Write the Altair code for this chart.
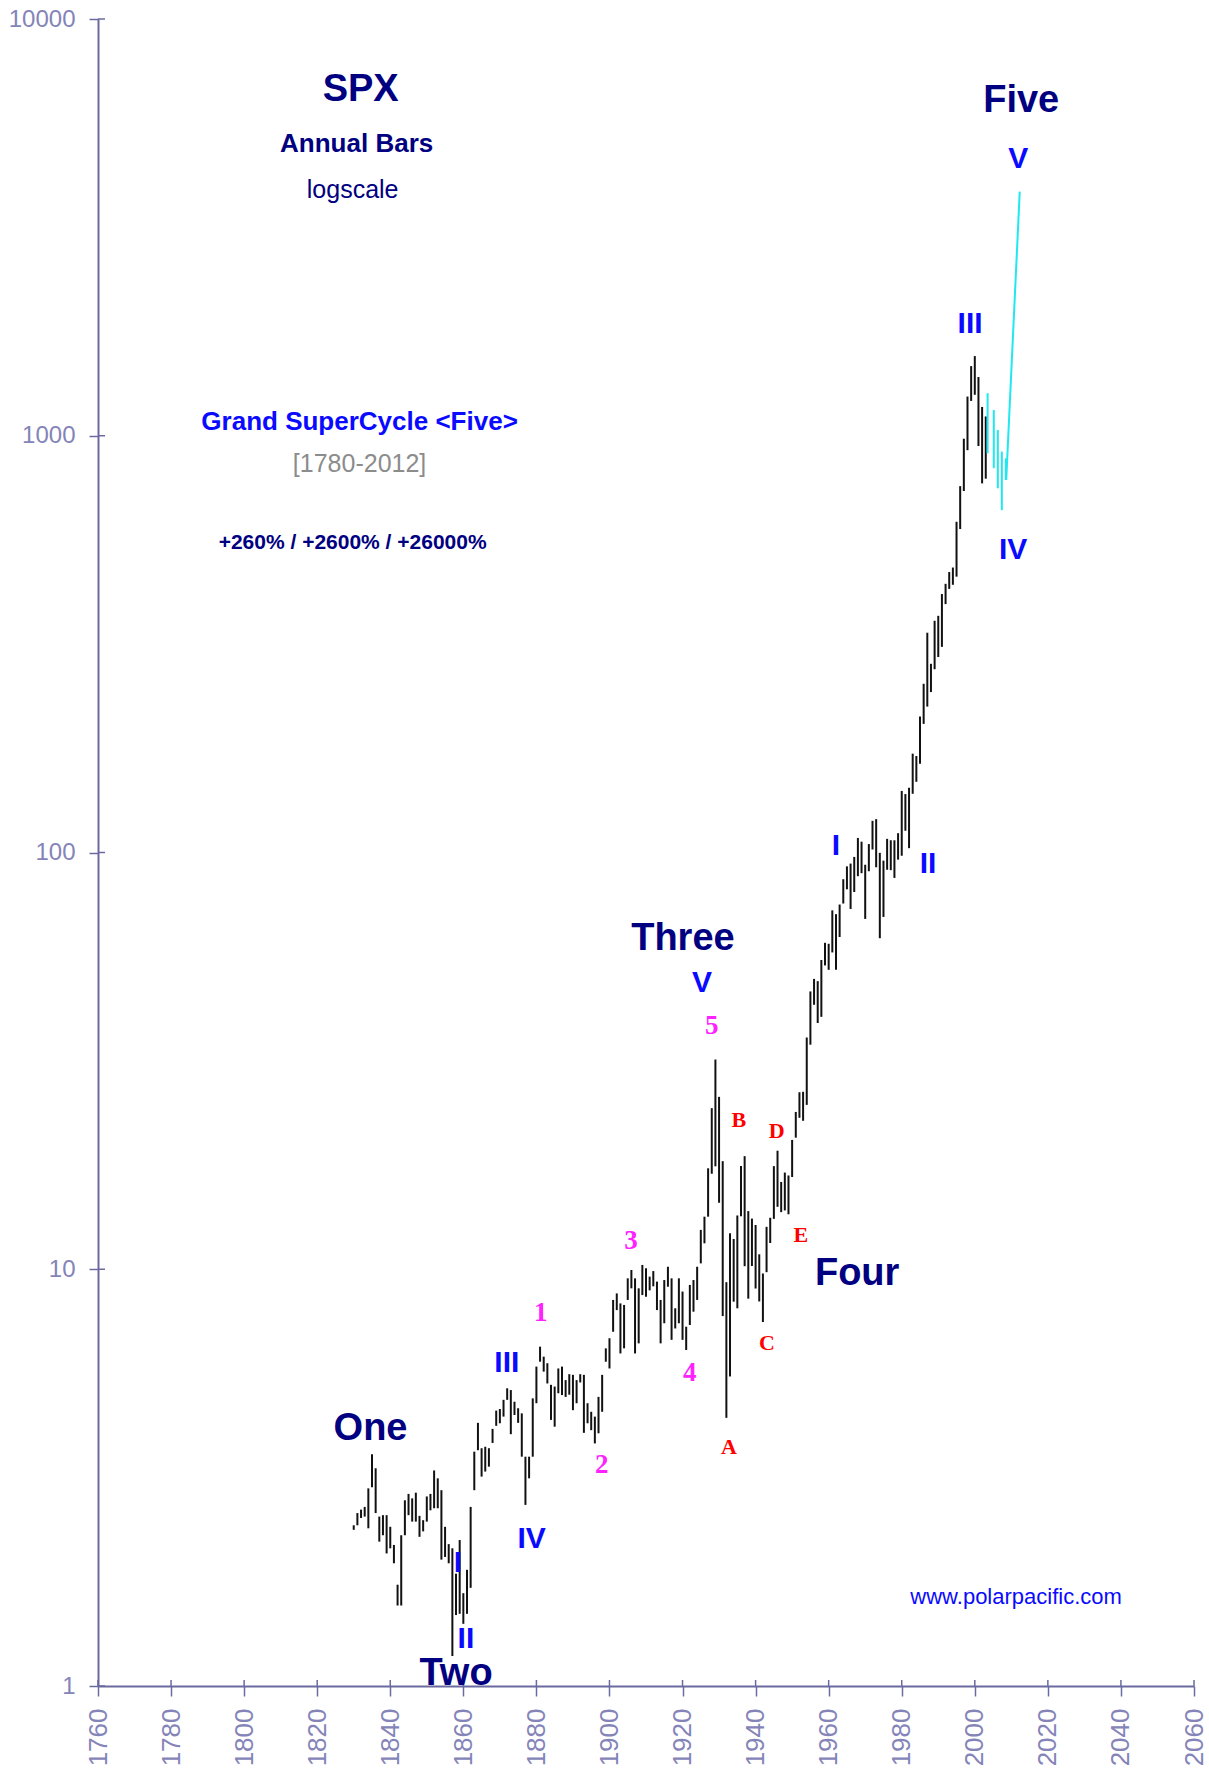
import altair as alt
import pandas as pd

# ---- annual high / low of the SPX (Cowles-extended before 1928), 1830-2003 ----
YEARS = list(range(1830, 2004))

HIGH = [
    # 1830s
    2.43, 2.60, 2.65, 2.69, 2.98, 3.60, 3.33, 2.55, 2.57, 2.57,
    # 1840s
    2.41, 2.18, 1.75, 2.30, 2.79, 2.89, 2.82, 2.91, 2.56, 2.50,
    # 1850s
    2.85, 2.89, 3.29, 3.15, 2.95, 2.41, 2.19, 2.14, 1.86, 2.24,
    # 1860s
    1.67, 1.90, 2.69, 3.65, 4.28, 3.72, 3.75, 3.72, 4.14, 4.58,
    # 1870s
    4.62, 4.86, 5.18, 5.13, 4.81, 4.64, 4.51, 3.55, 3.55, 4.90,
    # 1880s
    5.84, 6.52, 6.17, 5.95, 5.28, 5.23, 5.78, 5.84, 5.42, 5.60,
    # 1890s
    5.58, 5.42, 5.60, 5.58, 4.77, 4.55, 4.43, 4.94, 5.58, 6.46,
    # 1900s
    6.83, 8.44, 8.75, 8.28, 8.21, 9.51, 9.96, 9.51, 9.00, 10.24,
    # 1910s
    10.05, 9.60, 9.90, 9.34, 8.44, 9.42, 10.14, 9.51, 8.06, 9.51,
    # 1920s
    8.84, 7.28, 9.17, 9.42, 10.14, 12.43, 13.37, 17.47, 24.35, 31.86,
    # 1930s
    25.92, 18.17, 9.31, 12.20, 11.82, 13.46, 17.69, 18.68, 13.79, 13.23,
    # 1940s
    12.77, 10.86, 9.77, 12.64, 13.29, 17.68, 19.25, 16.20, 17.06, 16.79,
    # 1950s
    20.43, 23.85, 26.59, 26.66, 35.98, 46.41, 49.74, 49.13, 55.21, 60.71,
    # 1960s
    60.39, 72.64, 71.13, 75.02, 86.28, 92.63, 94.06, 97.59, 108.37, 106.16,
    # 1970s
    93.46, 104.77, 119.12, 120.24, 99.80, 95.61, 107.83, 107.00, 106.99, 111.27,
    # 1980s
    140.52, 138.12, 143.02, 172.65, 170.41, 212.02, 254.00, 336.77, 283.66, 359.80,
    # 1990s
    369.78, 417.09, 441.28, 470.94, 482.85, 621.69, 757.03, 983.79, 1241.81, 1469.25,
    # 2000-2003
    1552.87, 1383.37, 1172.51, 1112.56,
]

LOW = [
    # 1830s
    2.37, 2.43, 2.53, 2.55, 2.39, 3.00, 2.60, 2.22, 2.30, 2.08,
    # 1840s
    2.14, 1.97, 1.56, 1.56, 2.30, 2.57, 2.48, 2.48, 2.28, 2.35,
    # 1850s
    2.48, 2.64, 2.67, 2.67, 2.01, 2.04, 1.97, 1.18, 1.48, 1.49,
    # 1860s
    1.41, 1.49, 1.72, 2.95, 3.68, 3.18, 3.27, 3.36, 3.83, 4.21,
    # 1870s
    4.27, 4.43, 4.86, 4.02, 4.47, 4.28, 3.55, 2.72, 3.15, 3.55,
    # 1880s
    4.77, 6.00, 5.68, 5.32, 4.35, 4.19, 5.04, 4.99, 4.94, 5.00,
    # 1890s
    4.59, 4.77, 5.35, 4.05, 4.27, 4.11, 3.82, 4.04, 4.55, 6.00,
    # 1900s
    5.78, 7.08, 7.98, 6.28, 6.46, 8.44, 9.00, 6.28, 6.64, 8.67,
    # 1910s
    8.59, 8.90, 9.10, 7.98, 6.64, 7.42, 9.08, 6.77, 7.21, 7.42,
    # 1920s
    6.77, 6.40, 7.35, 7.91, 8.44, 10.33, 11.54, 13.37, 16.95, 17.66,
    # 1930s
    14.44, 7.72, 4.40, 5.53, 8.36, 8.06, 13.40, 10.17, 8.50, 10.18,
    # 1940s
    8.99, 8.37, 7.47, 9.84, 11.56, 13.21, 14.12, 13.71, 13.84, 13.55,
    # 1950s
    16.65, 20.69, 23.09, 22.71, 24.80, 34.58, 43.11, 38.98, 40.33, 53.58,
    # 1960s
    52.30, 57.57, 52.32, 62.69, 75.43, 81.60, 73.20, 80.38, 87.72, 89.20,
    # 1970s
    69.29, 90.16, 101.67, 92.16, 62.28, 70.04, 90.90, 90.71, 86.90, 96.13,
    # 1980s
    98.22, 112.77, 102.42, 138.34, 147.82, 163.36, 203.49, 223.92, 242.63, 275.31,
    # 1990s
    294.51, 311.49, 394.50, 429.05, 438.92, 459.11, 597.29, 737.01, 923.32, 1212.19,
    # 2000-2003
    1254.07, 944.75, 768.63, 788.90,
]

# ---- projected path (wave IV down, then wave V up) ----
PROJ_YEAR = [2003.5, 2005.2, 2006.3, 2007.4, 2008.5]
PROJ_HIGH = [1265, 1153, 1032, 916, 883]
PROJ_LOW = [908, 836, 748, 663, 783]
PATH_YEAR = [2008.6, 2012.3]
PATH_VALUE = [783, 3853]

# ---- annotations (label, year, index level) ----
HEADLINES = [
    ("SPX", 1831.9, 6758), ("Five", 2012.7, 6357), ("Three", 1920.1, 62.0),
    ("Four", 1967.8, 9.74), ("One", 1834.6, 4.14), ("Two", 1858.0, 1.07),
]
ROMAN = [
    ("V", 2011.9, 4613), ("III", 1998.7, 1854), ("IV", 2010.5, 532),
    ("I", 1962.0, 103.7), ("II", 1987.2, 93.8), ("V", 1925.3, 48.6),
    ("III", 1871.9, 5.96), ("IV", 1878.7, 2.25), ("I", 1858.5, 1.97),
    ("II", 1860.7, 1.30),
]
DIGITS = [
    ("1", 1881.2, 7.85), ("2", 1897.9, 3.39), ("3", 1905.9, 11.69),
    ("4", 1922.0, 5.64), ("5", 1928.0, 38.3),
]
LETTERS = [
    ("A", 1932.7, 3.75), ("B", 1935.4, 22.8), ("C", 1943.1, 6.65),
    ("D", 1945.8, 21.5), ("E", 1952.4, 12.08),
]
SUBTITLE = [("Annual Bars", 1830.8, 5012)]
SCALE_NOTE = [("logscale", 1829.7, 3890)]
CYCLE = [("Grand SuperCycle <Five>", 1831.6, 1079)]
SPAN = [("[1780-2012]", 1831.6, 855)]
GAINS = [("+260% / +2600% / +26000%", 1829.7, 553)]
SITE = [("www.polarpacific.com", 2011.3, 1.635)]

X_TICKS = list(range(1760, 2061, 20))
Y_TICKS = [1, 10, 100, 1000, 10000]

# ---- styling ----
PLOT_W, PLOT_H = 1096, 1667
NAVY = "#000080"
BLUE = "#0a0aff"
MAGENTA = "#ff22ff"
RED = "#ff0000"
GRAY = "#8c8c8c"
CYAN = "#1ee8f0"
AXIS = "#6a6aa0"
AXIS_LABEL = "#8484b8"
SANS = "Liberation Sans"
SERIF = "Liberation Serif"

x_scale = alt.Scale(domain=[1760, 2060], nice=False, zero=False)
y_scale = alt.Scale(type="log", domain=[1, 10000], nice=False)

# one shared axis definition per channel, so every layer merges into it
X_AXIS = alt.Axis(
    values=X_TICKS, format="d", labelAngle=270, title=None, grid=False,
    labelFont=SANS, labelFontSize=26, labelColor=AXIS_LABEL,
    labelPadding=12, labelFlush=False, labelOverlap=False,
    tickSize=10, tickWidth=1.5, tickColor=AXIS,
    domainColor=AXIS, domainWidth=2,
)
Y_AXIS = alt.Axis(
    values=Y_TICKS, format="d", title=None, grid=False,
    labelFont=SANS, labelFontSize=24, labelColor=AXIS_LABEL,
    labelPadding=14, labelFlush=False, labelOverlap=False,
    tickSize=9, tickWidth=1.5, tickColor=AXIS,
    domainColor=AXIS, domainWidth=2,
)


def x_enc(field="year"):
    return alt.X(f"{field}:Q", scale=x_scale, axis=X_AXIS)


def y_enc(field="value"):
    return alt.Y(f"{field}:Q", scale=y_scale, axis=Y_AXIS)


bars = pd.DataFrame({"year": YEARS, "high": HIGH, "low": LOW})
proj = pd.DataFrame({"year": PROJ_YEAR, "high": PROJ_HIGH, "low": PROJ_LOW})
path = pd.DataFrame({"year": PATH_YEAR, "value": PATH_VALUE})

# annual high-low bars
bar_layer = alt.Chart(bars).mark_rule(color="#111111", strokeWidth=2).encode(
    x=x_enc(), y=y_enc("low"), y2="high:Q"
)

proj_layer = alt.Chart(proj).mark_rule(color=CYAN, strokeWidth=2).encode(
    x=x_enc(), y=y_enc("low"), y2="high:Q"
)
path_layer = alt.Chart(path).mark_line(color=CYAN, strokeWidth=2).encode(
    x=x_enc(), y=y_enc()
)

# short tick stubs on the inner side of both axes
x_stubs = alt.Chart(pd.DataFrame({"year": X_TICKS})).mark_rule(
    color=AXIS, strokeWidth=1.5
).encode(x=x_enc(), y=alt.value(PLOT_H - 6), y2=alt.value(PLOT_H))
y_stubs = alt.Chart(pd.DataFrame({"value": Y_TICKS})).mark_rule(
    color=AXIS, strokeWidth=1.5
).encode(y=y_enc(), x=alt.value(0), x2=alt.value(7))


def text_layer(rows, **style):
    df = pd.DataFrame(rows, columns=["label", "year", "value"])
    return alt.Chart(df).mark_text(align="center", baseline="middle", **style).encode(
        x=x_enc(), y=y_enc(), text="label:N"
    )


labels = [
    text_layer(HEADLINES, font=SANS, fontSize=38, fontWeight="bold", color=NAVY),
    text_layer(ROMAN, font=SANS, fontSize=30, fontWeight="bold", color=BLUE),
    text_layer(DIGITS, font=SERIF, fontSize=27, fontWeight="bold", color=MAGENTA),
    text_layer(LETTERS, font=SERIF, fontSize=22, fontWeight="bold", color=RED),
    text_layer(SUBTITLE, font=SANS, fontSize=26, fontWeight="bold", color=NAVY),
    text_layer(SCALE_NOTE, font=SANS, fontSize=25, color=NAVY),
    text_layer(CYCLE, font=SANS, fontSize=26, fontWeight="bold", color=BLUE),
    text_layer(SPAN, font=SANS, fontSize=25, color=GRAY),
    text_layer(GAINS, font=SANS, fontSize=21, fontWeight="bold", color=NAVY),
    text_layer(SITE, font=SANS, fontSize=22, color=BLUE),
]

chart = alt.layer(
    bar_layer, proj_layer, path_layer, x_stubs, y_stubs, *labels
).properties(
    width=PLOT_W,
    height=PLOT_H,
    autosize=alt.AutoSizeParams(type="none"),
    padding={"left": 98, "top": 19, "right": 15, "bottom": 92},
    background="white",
).configure_view(strokeWidth=0)

chart.save("out.html", embed_options={"renderer": "svg", "actions": False})
